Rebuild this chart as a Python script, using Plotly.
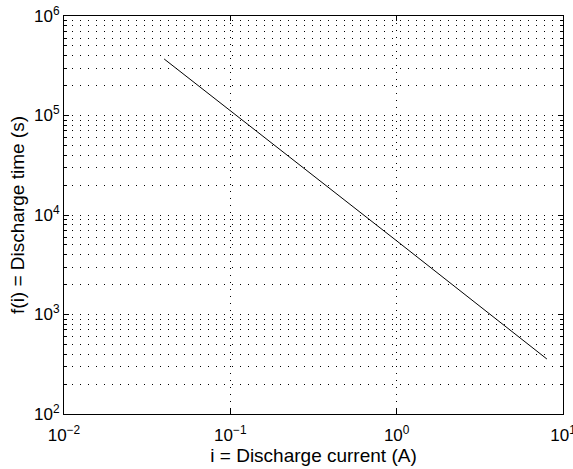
import plotly.graph_objects as go

current = [0.04, 0.1, 1.0, 8.0]
discharge_time = [370000, 112000, 5500, 357]

x_tickvals = [0.01, 0.1, 1, 10]
x_ticktext = ["10<sup>−2</sup>", "10<sup>−1</sup>", "10<sup>0</sup>", "10<sup>1</sup>"]
y_tickvals = [1e2, 1e3, 1e4, 1e5, 1e6]
y_ticktext = ["10<sup>2</sup>", "10<sup>3</sup>", "10<sup>4</sup>", "10<sup>5</sup>", "10<sup>6</sup>"]

x_title = "i = Discharge current (A)"
y_title = "f(i) = Discharge time (s)"

fig = go.Figure()
fig.add_trace(go.Scatter(x=current, y=discharge_time, mode="lines",
                         line=dict(color="black", width=1), showlegend=False))

fam = "Liberation Sans, Arial, sans-serif"
tickfont = dict(family=fam, size=17, color="black")
titlefont = dict(family=fam, size=19, color="black")
fig.update_layout(
    width=573, height=469,
    margin=dict(l=64, r=10, t=16, b=55),
    paper_bgcolor="white", plot_bgcolor="white",
    font=dict(family=fam, size=17, color="black"),
)
fig.update_xaxes(
    type="log", range=[-2, 1], tickvals=x_tickvals, ticktext=x_ticktext,
    showline=True, linecolor="black", linewidth=1, mirror="ticks",
    ticks="inside", ticklen=5, tickcolor="black",
    showgrid=True, gridcolor="black", gridwidth=1, griddash="1px,6px",
    zeroline=False, ticklabeloverflow="allow", ticklabelstandoff=6,
    automargin=False,
    title=dict(text=x_title, standoff=0, font=titlefont),
    tickfont=tickfont,
)
fig.update_yaxes(
    type="log", range=[2, 6], tickvals=y_tickvals, ticktext=y_ticktext,
    showline=True, linecolor="black", linewidth=1, mirror="ticks",
    ticks="inside", ticklen=5, tickcolor="black",
    showgrid=True, gridcolor="black", gridwidth=1, griddash="1px,7px",
    minor=dict(dtick="D1", ticks="inside", ticklen=3, tickcolor="black",
               showgrid=True, gridcolor="black", gridwidth=1, griddash="1px,7px"),
    zeroline=False, ticklabeloverflow="allow", automargin=False,
    title=dict(text=y_title, standoff=4, font=titlefont),
    tickfont=tickfont,
)
fig.write_html("out.html")
